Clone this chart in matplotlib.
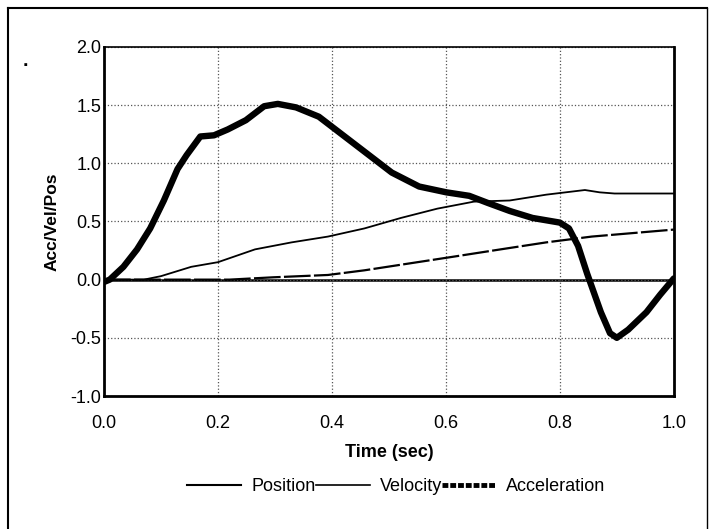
import matplotlib.pyplot as plt
from matplotlib.lines import Line2D

plt.rcParams['font.family'] = ['Liberation Sans', 'DejaVu Sans']

# Acceleration (thick, dotted-looking trace)
acc_t = [0.0, 0.01, 0.034, 0.058, 0.081, 0.105, 0.129, 0.145, 0.169, 0.193, 0.217,
         0.249, 0.281, 0.305, 0.337, 0.377, 0.409, 0.457, 0.505, 0.553, 0.601,
         0.641, 0.673, 0.712, 0.752, 0.800, 0.816, 0.832, 0.848, 0.872, 0.888,
         0.900, 0.920, 0.952, 0.976, 1.0]
acc = [-0.02, 0.0, 0.11, 0.26, 0.44, 0.68, 0.95, 1.07, 1.23, 1.24, 1.29,
       1.37, 1.49, 1.51, 1.48, 1.40, 1.28, 1.10, 0.92, 0.80, 0.75,
       0.72, 0.66, 0.59, 0.53, 0.49, 0.44, 0.29, 0.05, -0.28, -0.46,
       -0.50, -0.43, -0.28, -0.13, 0.01]

# Velocity (thin line)
vel_t = [0.0, 0.07, 0.10, 0.153, 0.20, 0.265, 0.329, 0.393, 0.457, 0.521,
         0.585, 0.649, 0.712, 0.776, 0.844, 0.870, 0.896, 1.0]
vel = [0.0, 0.0, 0.03, 0.11, 0.15, 0.26, 0.32, 0.37, 0.44, 0.53,
       0.61, 0.67, 0.68, 0.73, 0.77, 0.75, 0.74, 0.74]

# Position
pos_t = [0.0, 0.22, 0.297, 0.393, 0.457, 0.537, 0.617, 0.696, 0.776, 0.856, 1.0]
pos = [0.0, 0.0, 0.02, 0.04, 0.08, 0.14, 0.20, 0.26, 0.32, 0.37, 0.43]

fig = plt.figure(figsize=(7.14, 5.29), dpi=100)
ax = fig.add_axes([0.1457, 0.2514, 0.798, 0.660])

ax.plot(pos_t, pos, color='black', lw=1.6, dashes=(12, 1.5))
ax.plot(vel_t, vel, color='black', lw=1.3)
ax.plot(acc_t, acc, color='black', lw=4.6, solid_capstyle='round')
ax.axhline(0, color='black', lw=1.8, zorder=1)

ax.set_xlim(0, 1.0)
ax.set_ylim(-1.0, 2.0)
ax.set_xticks([0.0, 0.2, 0.4, 0.6, 0.8, 1.0])
ax.set_yticks([-1.0, -0.5, 0.0, 0.5, 1.0, 1.5, 2.0])
ax.xaxis.set_major_formatter(plt.FormatStrFormatter('%.1f'))
ax.yaxis.set_major_formatter(plt.FormatStrFormatter('%.1f'))
ax.tick_params(labelsize=13, length=0, pad=2)
ax.tick_params(axis='x', pad=14)
ax.grid(True, color='#555555', ls=':', lw=0.9)
for side in ['left', 'bottom', 'right']:
    ax.spines[side].set_linewidth(2.0)
ax.spines['top'].set_linewidth(1.2)

ax.set_xlabel('Time (sec)', fontsize=13, fontweight='bold', labelpad=8)
ax.set_ylabel('Acc/Vel/Pos', fontsize=12.5, fontweight='bold', labelpad=8)

handles = [Line2D([], [], color='black', lw=1.5),
           Line2D([], [], color='black', lw=1.2),
           Line2D([], [], color='black', lw=3.5, ls=(0, (1.2, 0.4)))]
fig.legend(handles, ['Position', 'Velocity', 'Acceleration'],
           loc='center', bbox_to_anchor=(0.555, 0.08), ncol=3, frameon=False,
           fontsize=13, handlelength=3.0, handletextpad=0.55, columnspacing=0.0)

# outer frame and stray dot
fig.add_artist(Line2D([0.011, 0.011], [0.0, 0.985], color='black', lw=1.5))
fig.add_artist(Line2D([0.011, 0.99], [0.985, 0.985], color='black', lw=1.5))
fig.add_artist(Line2D([0.99, 0.99], [0.0, 0.985], color='black', lw=1.0))
fig.text(0.031, 0.875, '.', fontsize=14, fontweight='bold')

fig.savefig('out.png', dpi=100)
